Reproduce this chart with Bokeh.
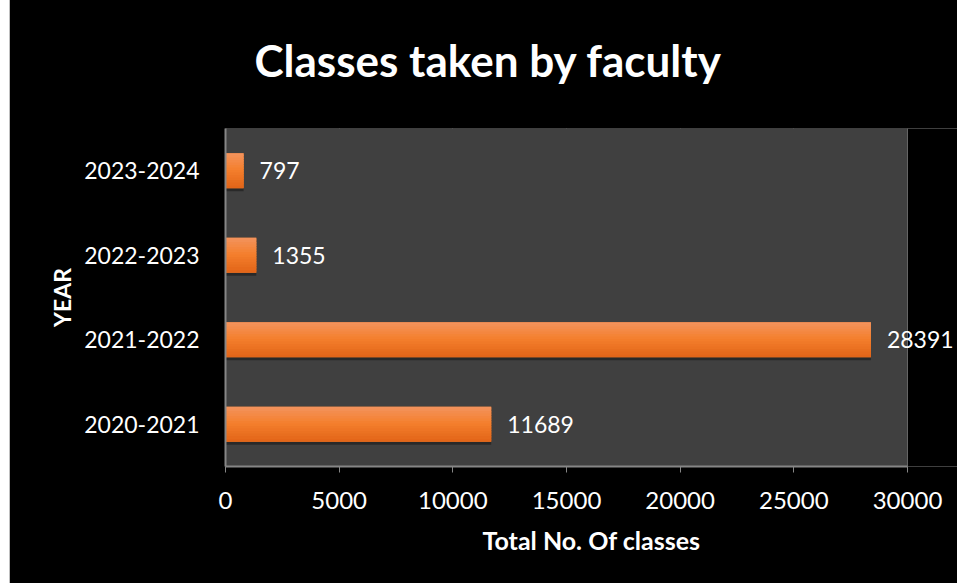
from bokeh.plotting import figure
from bokeh.models import ColumnDataSource, FactorRange, Range1d, LabelSet, FixedTicker, BoxAnnotation
from bokeh.transform import dodge
from bokeh.core.properties import value
from bokeh.embed import file_html
from bokeh.resources import INLINE

# ---- data ----
years = ["2020-2021", "2021-2022", "2022-2023", "2023-2024"]
classes = [11689, 28391, 1355, 797]
x_ticks = [0, 5000, 10000, 15000, 20000, 25000, 30000]
x_axis_max = 30000

title_text = "Classes taken by faculty"
x_label = "Total No. Of classes"
y_label = "YEAR"

FONT = "Lato"

src = ColumnDataSource(dict(year=years, classes=classes,
                            label=[str(v) for v in classes]))

# frame extended to the right so the outside value label is not clipped;
# the grey plot area is drawn only up to x_axis_max
p = figure(width=948, height=595,
           y_range=FactorRange(factors=years),
           x_range=Range1d(0, 32199),
           output_backend="svg", toolbar_location=None,
           min_border_left=216, min_border_right=0,
           min_border_top=139, min_border_bottom=117)
p.styles = {"margin-left": "9px", "margin-top": "-12px"}

p.background_fill_color = "#000000"
p.border_fill_color = "#000000"
p.outline_line_color = None

p.add_layout(BoxAnnotation(left=0, right=x_axis_max, fill_color="#404040",
                           fill_alpha=1.0, line_color=None, level="underlay"))

# white page strip above the black chart area
p.add_layout(BoxAnnotation(left=0, right=948, top=0, bottom=26,
                           left_units="canvas", right_units="canvas",
                           top_units="canvas", bottom_units="canvas",
                           fill_color="white", fill_alpha=1.0,
                           line_color=None, level="overlay"))

# title
p.title.text = title_text
p.title.text_font = FONT
p.title.text_font_size = "44px"
p.title.text_font_style = "bold"
p.title.text_color = "white"
p.title.align = "left"
p.title.offset = 29
p.title.standoff = 86

# bars: shadow + vertical gradient made of overlapping strips
BAR_H = 0.413
p.hbar(y=dodge("year", -0.035, range=p.y_range), left=0, right="classes",
       height=BAR_H, source=src, fill_color="black", fill_alpha=0.35,
       line_color=None)
p.hbar(y="year", left=0, right="classes", height=BAR_H, source=src,
       fill_color="#f07f2e", line_color=None)

top_c = (243, 148, 96)
mid_c = (244, 127, 44)
bot_c = (226, 100, 24)
N = 14
hs = BAR_H / N
for i in range(N):
    t = (i + 0.5) / N
    if t < 0.5:
        a, b, f = top_c, mid_c, t / 0.5
    else:
        a, b, f = mid_c, bot_c, (t - 0.5) / 0.5
    col = "#%02x%02x%02x" % tuple(int(round(a[k] + (b[k] - a[k]) * f)) for k in range(3))
    off = BAR_H / 2 - (i + 0.5) * hs
    p.hbar(y=dodge("year", off, range=p.y_range), left=0, right="classes",
           height=hs * 1.6 if 0 < i < N - 1 else hs, source=src,
           fill_color=col, line_color=None)

labels = LabelSet(x="classes", y="year", text="label", source=src,
                  x_offset=16, text_baseline="middle", text_align="left",
                  text_color="white", text_font=value(FONT),
                  text_font_size="23px")
p.add_layout(labels)

# axes
ax = p.xaxis[0]
ax.ticker = FixedTicker(ticks=x_ticks)
ax.bounds = (0, x_axis_max)
ax.axis_label = x_label
ax.axis_label_text_font = FONT
ax.axis_label_text_font_size = "25px"
ax.axis_label_text_font_style = "bold"
ax.axis_label_text_color = "white"
ax.axis_label_standoff = 13
ax.major_label_text_font = FONT
ax.major_label_text_font_size = "24px"
ax.major_label_text_color = "white"
ax.major_label_standoff = 19
ax.axis_line_color = "#868686"
ax.axis_line_width = 2
ax.major_tick_line_color = "#868686"
ax.major_tick_out = 6
ax.major_tick_in = 0
ax.minor_tick_line_color = None

ay = p.yaxis[0]
ay.axis_label = y_label
ay.axis_label_text_font = FONT
ay.axis_label_text_font_size = "23px"
ay.axis_label_text_font_style = "bold"
ay.axis_label_text_color = "white"
ay.axis_label_standoff = 5
ay.major_label_text_font = FONT
ay.major_label_text_font_size = "23px"
ay.major_label_text_color = "white"
ay.major_label_standoff = 26
ay.major_tick_line_color = None
ay.major_tick_out = 0
ay.minor_tick_line_color = None
ay.axis_line_color = "#868686"
ay.axis_line_width = 2

p.xgrid.ticker = FixedTicker(ticks=x_ticks)
p.xgrid.grid_line_color = "#8c8c8c"
p.ygrid.grid_line_color = None

open("out.html", "w").write(file_html(p, INLINE))
